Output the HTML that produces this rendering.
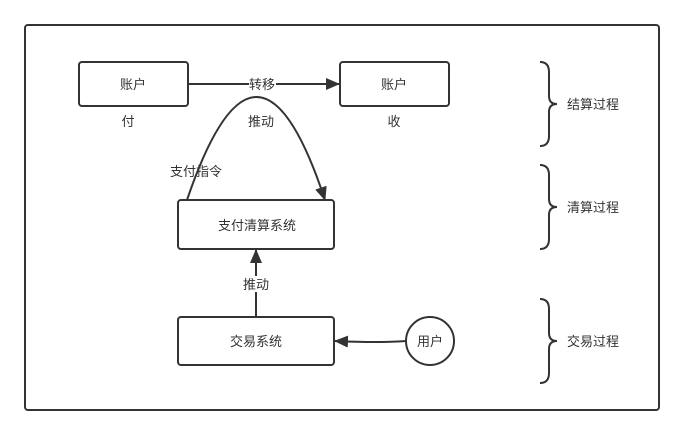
<!DOCTYPE html>
<html><head><meta charset="utf-8"><style>
html,body{margin:0;padding:0;background:#fff;}
svg{display:block;}
text{font-family:"Liberation Sans","Noto Sans CJK SC",sans-serif;font-size:13px;fill:#333;}
</style></head><body>
<svg width="684" height="435" viewBox="0 0 684 435" xmlns="http://www.w3.org/2000/svg">
<defs>
<marker id="ah2" markerWidth="14" markerHeight="12" refX="13" refY="6" orient="auto" markerUnits="userSpaceOnUse">
<path d="M0,0 L14,6 L0,12 Z" fill="#333"/>
</marker>
</defs>
<rect x="25" y="25" width="634" height="385" rx="3" fill="#fff" stroke="#333" stroke-width="2"/>
<g fill="#fff" stroke="#333" stroke-width="2">
<rect x="79" y="62" width="109" height="44" rx="3"/>
<rect x="340" y="62" width="109" height="44" rx="3"/>
<rect x="178" y="200" width="156" height="49" rx="3"/>
<rect x="178" y="317" width="156" height="48" rx="3"/>
<circle cx="430" cy="341" r="24"/>
</g>
<g fill="none" stroke="#333" stroke-width="2">
<line x1="188" y1="84" x2="339" y2="84" marker-end="url(#ah2)"/>
<path d="M187,200 Q257,-6 325,200" marker-end="url(#ah2)"/>
<line x1="256" y1="316" x2="256" y2="250" marker-end="url(#ah2)"/>
<path d="M406,341 Q380,343 335,341" marker-end="url(#ah2)"/>
<path d="M540,62 Q549,62 549,72 L549,96 Q549,104 557,104 Q549,104 549,112 L549,136 Q549,146 540,146"/>
<path d="M540,165 Q549,165 549,175 L549,199 Q549,207 557,207 Q549,207 549,215 L549,239 Q549,249 540,249"/>
<path d="M540,299 Q549,299 549,309 L549,333 Q549,341 557,341 Q549,341 549,349 L549,373 Q549,383 540,383"/>
</g>
<rect x="249" y="76" width="27" height="16" fill="#fff"/>
<rect x="242" y="276" width="29" height="16" fill="#fff"/>
<g text-anchor="middle">
<text x="133" y="89">账户</text>
<text x="394" y="89">账户</text>
<text x="128" y="126">付</text>
<text x="394" y="126">收</text>
<text x="262" y="89">转移</text>
<text x="261" y="126">推动</text>
<text x="196" y="176">支付指令</text>
<text x="257" y="230">支付清算系统</text>
<text x="256" y="289">推动</text>
<text x="256" y="346">交易系统</text>
<text x="430" y="346">用户</text>
</g>
<text x="567" y="109">结算过程</text>
<text x="567" y="212">清算过程</text>
<text x="567" y="346">交易过程</text>
</svg>
</body></html>
